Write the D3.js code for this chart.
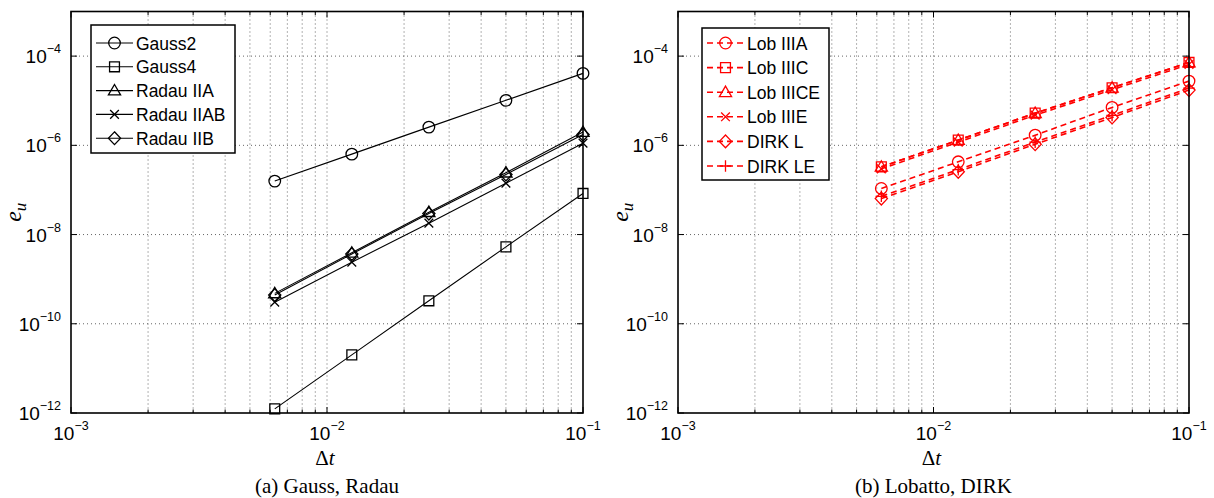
<!DOCTYPE html>
<html>
<head>
<meta charset="utf-8">
<script src="https://cdn.jsdelivr.net/npm/d3@7"></script>
<style>
  body { margin: 0; background: #fff; }
  svg { display: block; }
</style>
</head>
<body>
<svg id="chart" width="1214" height="498"></svg>
<script>
// Step sizes (shared by both panels)
const dt = [0.1, 0.05, 0.025, 0.0125, 0.00625];

// Panel (a) Gauss, Radau
const gaussNames = ["Gauss2", "Gauss4", "Radau IIA", "Radau IIAB", "Radau IIB"];
const gaussMarkers = ["circle", "square", "triangle", "cross", "diamond"];
const gauss2 = [4.1e-5, 1.02e-5, 2.56e-6, 6.35e-7, 1.58e-7];
const gauss4 = [8.35e-8, 5.3e-9, 3.27e-10, 2.01e-11, 1.24e-12];
const radauIIA = [1.98e-6, 2.44e-7, 3.18e-8, 3.9e-9, 4.8e-10];
const radauIIAB = [1.12e-6, 1.42e-7, 1.8e-8, 2.4e-9, 3.05e-10];
const radauIIB = [1.74e-6, 2.22e-7, 2.95e-8, 3.65e-9, 4.4e-10];

// Panel (b) Lobatto, DIRK
const lobNames = ["Lob IIIA", "Lob IIIC", "Lob IIICE", "Lob IIIE", "DIRK L", "DIRK LE"];
const lobMarkers = ["circle", "square", "triangle", "cross", "diamond", "plus"];
const lobIIIA = [2.75e-5, 7.08e-6, 1.69e-6, 4.27e-7, 1.08e-7];
const lobIIIC = [7.22e-5, 1.95e-5, 5.27e-6, 1.31e-6, 3.3e-7];
const lobIIICE = [7.22e-5, 1.95e-5, 5.27e-6, 1.31e-6, 3.3e-7];
const lobIIIE = [6.5e-5, 1.76e-5, 4.75e-6, 1.18e-6, 2.97e-7];
const dirkL = [1.73e-5, 4.2e-6, 1.06e-6, 2.55e-7, 6.4e-8];
const dirkLE = [1.92e-5, 4.7e-6, 1.18e-6, 2.85e-7, 7.2e-8];

// Axis ticks
const xTicks = [1e-3, 1e-2, 1e-1];
const yTicks = [1e-12, 1e-10, 1e-8, 1e-6, 1e-4];
const xTickExp = ["−3", "−2", "−1"];
const yTickExp = ["−12", "−10", "−8", "−6", "−4"];

const svg = d3.select("#chart");
const tickFont = "'Liberation Sans', Arial, sans-serif";
const serifFont = "'Liberation Serif', 'DejaVu Serif', serif";

// Marker path builder (unfilled MATLAB-like markers)
function markerPath(type, s) {
    switch (type) {
        case "circle":
            return `M${-s},0A${s},${s} 0 1,0 ${s},0A${s},${s} 0 1,0 ${-s},0Z`;
        case "square":
            return `M${-s*0.85},${-s*0.85}H${s*0.85}V${s*0.85}H${-s*0.85}Z`;
        case "triangle":
            return `M0,${-s*1.05}L${s*1.05},${s*0.75}L${-s*1.05},${s*0.75}Z`;
        case "diamond":
            return `M0,${-s*1.1}L${s*1.05},0L0,${s*1.1}L${-s*1.05},0Z`;
        case "cross":
            return `M${-s*0.75},${-s*0.75}L${s*0.75},${s*0.75}M${-s*0.75},${s*0.75}L${s*0.75},${-s*0.75}`;
        case "plus":
            return `M${-s},0H${s}M0,${-s}V${s}`;
    }
}

function drawPanel(cfg) {
    const x = d3.scaleLog().domain([1e-3, 1e-1]).range([cfg.left, cfg.right]);
    const y = d3.scaleLog().domain([1e-12, 1e-3]).range([413, 11.5]);
    const g = svg.append("g");

    // Minor x values for grid
    const xMinor = [];
    [1e-3, 1e-2].forEach(b => { for (let k = 2; k <= 9; k++) xMinor.push(b * k); });

    // Dotted grid
    const grid = g.append("g")
        .attr("stroke", "#555")
        .attr("stroke-width", 0.9)
        .attr("stroke-dasharray", "1,3");
    xMinor.concat([1e-2]).forEach(v => {
        grid.append("line")
            .attr("x1", x(v)).attr("x2", x(v))
            .attr("y1", y(1e-3)).attr("y2", y(1e-12));
    });
    yTicks.slice(1).forEach(v => {
        grid.append("line")
            .attr("x1", x(1e-3)).attr("x2", x(1e-1))
            .attr("y1", y(v)).attr("y2", y(v));
    });

    // Data lines + markers
    const line = d3.line().x((d, i) => x(dt[i])).y(d => y(d));
    cfg.series.forEach((vals, si) => {
        g.append("path")
            .attr("d", line(vals))
            .attr("fill", "none")
            .attr("stroke", cfg.color)
            .attr("stroke-width", cfg.dashed ? 1.6 : 1.1)
            .attr("stroke-dasharray", cfg.dashed ? "6,4" : null);
        g.selectAll(null)
            .data(vals)
            .enter().append("path")
            .attr("transform", (d, i) => `translate(${x(dt[i])},${y(d)})`)
            .attr("d", markerPath(cfg.markers[si], 5.8))
            .attr("fill", "none")
            .attr("stroke", cfg.color)
            .attr("stroke-width", 1.3);
    });

    // Axes box with inward ticks
    const ticks = g.append("g").attr("stroke", "#000").attr("stroke-width", 1);
    const yTop = y(1e-3), yBot = y(1e-12), xL = x(1e-3), xR = x(1e-1);
    xTicks.concat(xMinor).forEach(v => {
        const len = xTicks.includes(v) ? 6 : 3.5;
        ticks.append("line").attr("x1", x(v)).attr("x2", x(v)).attr("y1", yBot).attr("y2", yBot - len);
        ticks.append("line").attr("x1", x(v)).attr("x2", x(v)).attr("y1", yTop).attr("y2", yTop + len);
    });
    yTicks.forEach(v => {
        ticks.append("line").attr("x1", xL).attr("x2", xL + 6).attr("y1", y(v)).attr("y2", y(v));
        ticks.append("line").attr("x1", xR).attr("x2", xR - 6).attr("y1", y(v)).attr("y2", y(v));
    });
    g.append("rect")
        .attr("x", xL).attr("y", yTop)
        .attr("width", xR - xL).attr("height", yBot - yTop)
        .attr("fill", "none").attr("stroke", "#000").attr("stroke-width", 1.6);

    // Tick labels
    xTicks.forEach((v, i) => {
        const t = g.append("text")
            .attr("x", x(v)).attr("y", 440)
            .attr("text-anchor", "middle")
            .attr("font-family", tickFont).attr("font-size", 19);
        t.append("tspan").text("10");
        t.append("tspan").attr("dy", -10).attr("font-size", 12.5).text(xTickExp[i]);
    });
    yTicks.forEach((v, i) => {
        const t = g.append("text")
            .attr("x", xL - 10).attr("y", y(v) + 7)
            .attr("text-anchor", "end")
            .attr("font-family", tickFont).attr("font-size", 19);
        t.append("tspan").text("10");
        t.append("tspan").attr("dy", -10).attr("font-size", 12.5).text(yTickExp[i]);
    });

    // Axis labels
    const xl = g.append("text")
        .attr("x", (xL + xR) / 2 - 2).attr("y", 465)
        .attr("text-anchor", "middle")
        .attr("font-family", serifFont).attr("font-size", 21);
    xl.append("tspan").text("Δ");
    xl.append("tspan").attr("font-style", "italic").text("t");

    const yl = g.append("text")
        .attr("transform", `translate(${xL - 50},${(yTop + yBot) / 2}) rotate(-90)`)
        .attr("text-anchor", "middle")
        .attr("font-family", serifFont).attr("font-size", 24);
    yl.append("tspan").attr("font-style", "italic").text("e");
    yl.append("tspan").attr("font-style", "italic").attr("font-size", 17).attr("dy", 5).text("u");

    // Caption
    g.append("text")
        .attr("x", (xL + xR) / 2).attr("y", 493)
        .attr("text-anchor", "middle")
        .attr("font-family", serifFont).attr("font-size", 21)
        .text(cfg.caption);

    // Legend
    const lg = cfg.legend;
    g.append("rect")
        .attr("x", lg.x).attr("y", lg.y)
        .attr("width", lg.w).attr("height", lg.h)
        .attr("fill", "#fff").attr("stroke", "#000").attr("stroke-width", 1.5);
    cfg.names.forEach((name, i) => {
        const ry = lg.firstRow + i * lg.rowGap;
        g.append("line")
            .attr("x1", lg.x + 5).attr("x2", lg.x + 5 + lg.sample)
            .attr("y1", ry).attr("y2", ry)
            .attr("stroke", cfg.color)
            .attr("stroke-width", cfg.dashed ? 1.6 : 1.1)
            .attr("stroke-dasharray", cfg.dashed ? "6,4" : null);
        g.append("path")
            .attr("transform", `translate(${lg.x + 5 + lg.sample / 2},${ry})`)
            .attr("d", markerPath(cfg.markers[i], 5.8))
            .attr("fill", "none").attr("stroke", cfg.color).attr("stroke-width", 1.3);
        g.append("text")
            .attr("x", lg.x + 8 + lg.sample).attr("y", ry + 6.5)
            .attr("font-family", tickFont).attr("font-size", 17.5)
            .attr("fill", "#000")
            .text(name);
    });
}

drawPanel({
    left: 71, right: 583,
    series: [gauss2, gauss4, radauIIA, radauIIAB, radauIIB],
    names: gaussNames, markers: gaussMarkers,
    color: "#000", dashed: false,
    caption: "(a) Gauss, Radau",
    legend: { x: 91, y: 25, w: 144, h: 128, firstRow: 43, rowGap: 23.8, sample: 37 }
});

drawPanel({
    left: 678, right: 1189,
    series: [lobIIIA, lobIIIC, lobIIICE, lobIIIE, dirkL, dirkLE],
    names: lobNames, markers: lobMarkers,
    color: "#ff0000", dashed: true,
    caption: "(b) Lobatto, DIRK",
    legend: { x: 702, y: 28, w: 127, h: 152, firstRow: 43, rowGap: 24.6, sample: 37 }
});
</script>
</body>
</html>
